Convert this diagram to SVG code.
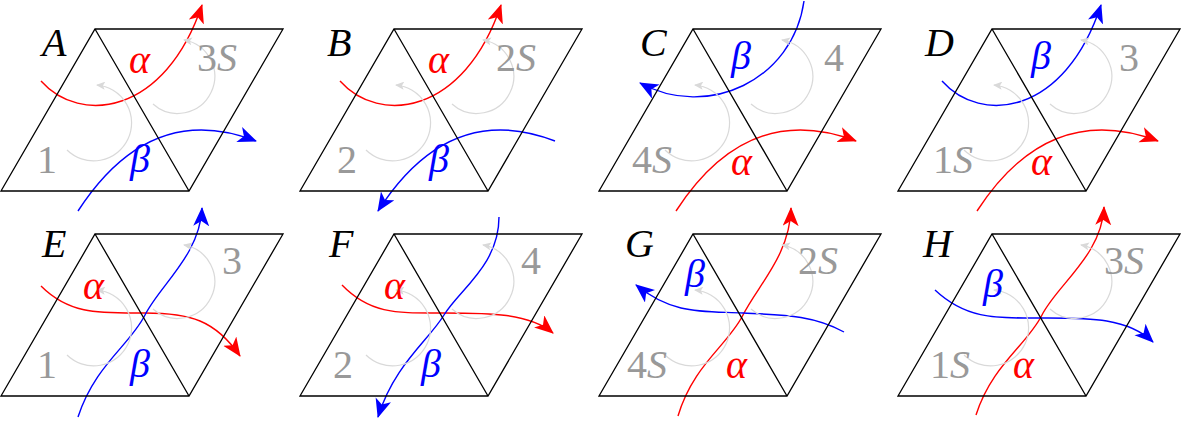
<svg xmlns="http://www.w3.org/2000/svg" xmlns:xlink="http://www.w3.org/1999/xlink" width="1181" height="422" viewBox="0 0 1181 422" font-family="Liberation Serif, Times New Roman, serif" font-size="40">
<style>
.frame{fill:none;stroke:#000;stroke-width:1.3}
.arc{fill:none;stroke:#d9d9d9;stroke-width:1.2}
.r{fill:none;stroke:#f00;stroke-width:1.4}
.b{fill:none;stroke:#00f;stroke-width:1.4}
.lab{font-style:italic;fill:#000}
.g{fill:#999}
.g tspan{font-style:italic}
.tr{fill:#f00;font-style:italic}
.tb{fill:#00f;font-style:italic}
</style>
<defs>
<marker id="mr" markerUnits="userSpaceOnUse" markerWidth="22" markerHeight="18" refX="18" refY="8" orient="auto"><path d="M0,0 L19,8 L0,16 L5,8 Z" fill="#f00"/></marker>
<marker id="mb" markerUnits="userSpaceOnUse" markerWidth="22" markerHeight="18" refX="18" refY="8" orient="auto"><path d="M0,0 L19,8 L0,16 L5,8 Z" fill="#00f"/></marker>
<marker id="mg" markerUnits="userSpaceOnUse" markerWidth="10" markerHeight="8" refX="8" refY="4" orient="auto"><path d="M0,0 L9,4 L0,8 L2,4 Z" fill="#d9d9d9"/></marker>
<g id="base">
<path class="frame" d="M1,191 L95,29 L283,29 L189,191 Z M95,29 L189,191"/>
<path class="arc" marker-end="url(#mg)" d="M67,150 A38,38 0 1 0 97,85"/>
<path class="arc" marker-end="url(#mg)" d="M153,104 A37,37 0 1 0 184,40"/>
</g>
</defs>
<g id="connectors">
<path class="r" marker-end="url(#mr)" d="M41,81 C80,125 165,115 202,5"/>
<path class="b" marker-end="url(#mb)" d="M78,211 Q150,100 256,141"/>
<path class="r" marker-end="url(#mr)" transform="translate(299,0)" d="M41,81 C80,125 165,115 202,5"/>
<path class="b" marker-end="url(#mb)" transform="translate(299,0)" d="M256,141 Q150,100 79,211"/>
<path class="b" marker-end="url(#mb)" transform="translate(598,0)" d="M206,1 C195,80 110,120 42,83"/>
<path class="r" marker-end="url(#mr)" transform="translate(598,0)" d="M78,211 Q150,100 258,141"/>
<path class="b" marker-end="url(#mb)" transform="translate(897,0)" d="M45,81 C84,125 168,115 204,5"/>
<path class="r" marker-end="url(#mr)" transform="translate(897,0)" d="M80,211 Q152,100 261,141"/>
<path class="r" marker-end="url(#mr)" transform="translate(0,205)" d="M41,81 C70,110 100,108 145,108 S215,115 240,151"/>
<path class="b" marker-end="url(#mb)" transform="translate(0,205)" d="M78,212 C95,160 130,140 145,110 S200,50 202,3"/>
<path class="r" marker-end="url(#mr)" transform="translate(299,205)" d="M43,80 C72,110 100,108 145,108 S230,108 254,128"/>
<path class="b" marker-end="url(#mb)" transform="translate(299,205)" d="M200,12 C200,60 160,85 145,110 S95,160 79,212"/>
<path class="r" marker-end="url(#mr)" transform="translate(598,205)" d="M80,211 C95,160 130,140 145,110 S192,50 193,3"/>
<path class="b" marker-end="url(#mb)" transform="translate(598,205)" d="M246,127 C215,110 185,110 145,108 S75,110 38,80"/>
<path class="r" marker-end="url(#mr)" transform="translate(897,205)" d="M79,210 C95,160 130,140 145,110 S205,50 207,2"/>
<path class="b" marker-end="url(#mb)" transform="translate(897,205)" d="M38,85 C70,115 100,113 145,113 S230,112 256,137"/>
</g>
<g id="A"><use xlink:href="#base"/><text class="lab" x="42" y="56">A</text><text class="g" x="197" y="71">3<tspan>S</tspan></text><text class="g" x="37" y="173">1</text><text class="tr" x="129" y="73">α</text><text class="tb" x="130" y="172">β</text></g>
<g id="B" transform="translate(299,0)"><use xlink:href="#base"/><text class="lab" x="28" y="56">B</text><text class="g" x="197" y="71">2<tspan>S</tspan></text><text class="g" x="38" y="173">2</text><text class="tr" x="129" y="73">α</text><text class="tb" x="130" y="172">β</text></g>
<g id="C" transform="translate(598,0)"><use xlink:href="#base"/><text class="lab" x="42" y="56">C</text><text class="g" x="226" y="71">4</text><text class="g" x="34" y="173">4<tspan>S</tspan></text><text class="tr" x="133" y="175">α</text><text class="tb" x="133" y="69">β</text></g>
<g id="D" transform="translate(897,0)"><use xlink:href="#base"/><text class="lab" x="28" y="56">D</text><text class="g" x="222" y="71">3</text><text class="g" x="36" y="173">1<tspan>S</tspan></text><text class="tr" x="134" y="175">α</text><text class="tb" x="134" y="69">β</text></g>
<g id="E" transform="translate(0,205)"><use xlink:href="#base"/><text class="lab" x="42" y="52">E</text><text class="g" x="222" y="69">3</text><text class="g" x="37" y="173">1</text><text class="tr" x="83" y="94">α</text><text class="tb" x="130" y="172">β</text></g>
<g id="F" transform="translate(299,205)"><use xlink:href="#base"/><text class="lab" x="30" y="52">F</text><text class="g" x="222" y="69">4</text><text class="g" x="34" y="173">2</text><text class="tr" x="85" y="94">α</text><text class="tb" x="122" y="172">β</text></g>
<g id="G" transform="translate(598,205)"><use xlink:href="#base"/><text class="lab" x="27" y="52">G</text><text class="g" x="200" y="69">2<tspan>S</tspan></text><text class="g" x="29" y="173">4<tspan>S</tspan></text><text class="tr" x="128" y="173">α</text><text class="tb" x="87" y="82">β</text></g>
<g id="H" transform="translate(897,205)"><use xlink:href="#base"/><text class="lab" x="26" y="52">H</text><text class="g" x="207" y="69">3<tspan>S</tspan></text><text class="g" x="33" y="173">1<tspan>S</tspan></text><text class="tr" x="116" y="173">α</text><text class="tb" x="86" y="92">β</text></g>
</svg>
